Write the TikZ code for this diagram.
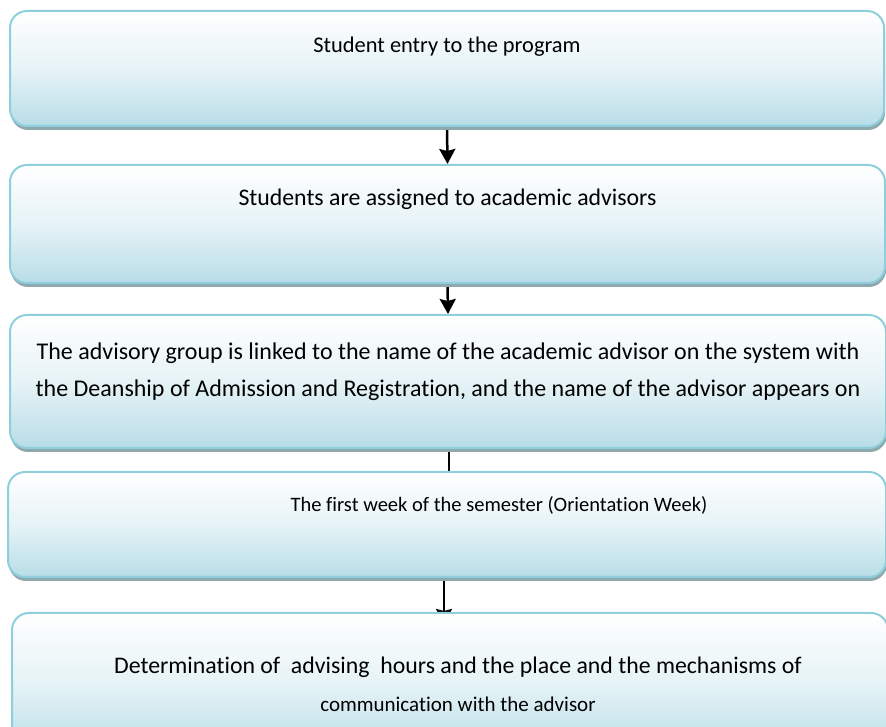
\documentclass[tikz,border=0pt]{standalone}
\usepackage{fontspec}
\setmainfont[Ligatures=NoCommon]{Carlito}
\usetikzlibrary{positioning,shadows,arrows.meta,backgrounds}
\definecolor{boxblue}{HTML}{B8DDE7}
\definecolor{boxline}{HTML}{8ECFDD}
\definecolor{boxshade}{HTML}{8FA8AE}
\begin{document}
\begin{tikzpicture}[x=1pt,y=1pt,font=\fontsize{23.8}{37}\selectfont, line join=round,
	stage/.style={draw=boxline, line width=2pt, rounded corners=17pt, inner sep=0pt,
		top color=white, bottom color=boxblue, middle color=boxblue!35,
		drop shadow={shadow xshift=1pt, shadow yshift=-4pt, fill=boxshade, opacity=1}},
	txt/.style={inner sep=0pt, align=center},
	flow/.style={line width=2.5pt, -{Stealth[length=15pt,width=16pt,inset=2pt]}}]
	\useasboundingbox (0,0) rectangle (886,727);
	\clip (0,0) rectangle (886,727);
	% the five stages
	\node[stage, minimum width=874pt, minimum height=115pt] (b1) at (447,658.5) {};
	\node[stage, minimum width=875pt, minimum height=118pt] (b2) at (447.5,503) {};
	\node[stage, minimum width=876pt, minimum height=133pt] (b3) at (448,345.5) {};
	\node[stage, minimum width=878pt, minimum height=105pt] (b4) at (447,202.5) {};
	\node[stage, minimum width=876pt, minimum height=140pt] (b5) at (450,44) {};
	% texts
	\node[txt, font=\fontsize{22.4}{37}\selectfont, below=27pt of b1.north] (t1) {Student entry to the program};
	\node[txt, below=25pt of b2.north] (t2) {Students are assigned to academic advisors};
	\node[txt, font=\fontsize{24}{37.5}\selectfont, below=28.5pt of b3.north] (t3) {The advisory group is linked to the name of the academic advisor on the system with\\the Deanship of Admission and Registration, and the name of the advisor appears on};
	\node[txt, font=\fontsize{20.5}{37}\selectfont, below=25pt of b4.north, xshift=52pt] (t4) {The first week of the semester (Orientation Week)};
	\node[txt, font=\fontsize{23.8}{38}\selectfont, below=45pt of b5.north, xshift=8pt] (t5) {Determination of \ advising \ hours and the place and the mechanisms of\\{\fontsize{21}{38}\selectfont communication with the advisor}};
	% arrows
	\begin{scope}[on background layer]
		\draw[flow] (b1.south) -- (b2.north);
		\draw[flow] (b2.south) -- (b3.north);
		\draw[flow] ([xshift=1pt]b3.south) -- ([xshift=2pt,yshift=-17pt]b4.north);
		\draw[flow] ([xshift=-3pt]b4.south) -- ([xshift=-6pt,yshift=-12pt]b5.north);
	\end{scope}
\end{tikzpicture}
\end{document}
